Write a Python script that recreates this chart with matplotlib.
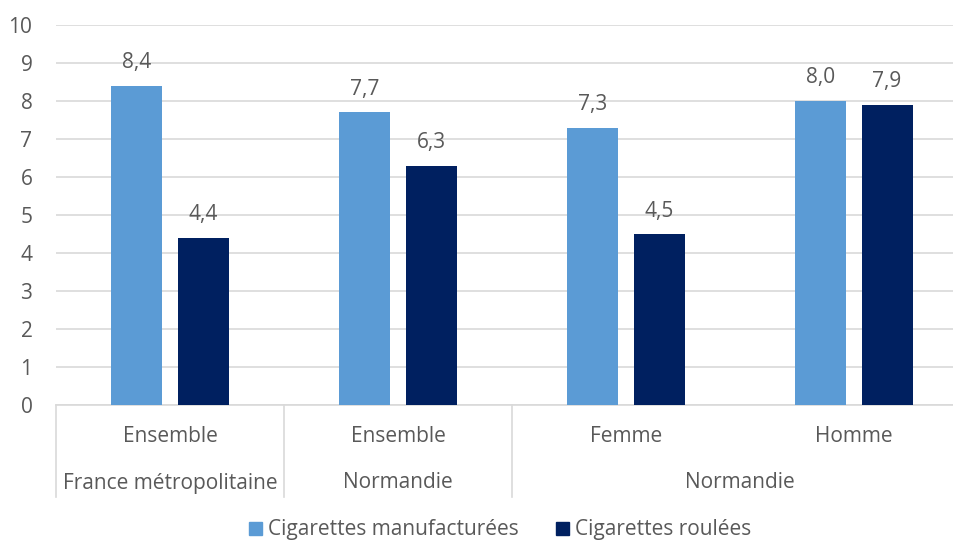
import matplotlib
matplotlib.use("Agg")
import matplotlib.pyplot as plt
import matplotlib.transforms as mtransforms
from matplotlib.patches import Patch

plt.rcParams['font.family'] = ['Open Sans', 'DejaVu Sans']

level1 = ["Ensemble", "Ensemble", "Femme", "Homme"]
level2 = ["France métropolitaine", "Normandie", "Normandie"]
level2_span = [(0, 0), (1, 1), (2, 3)]
series_names = ["Cigarettes manufacturées", "Cigarettes roulées"]
manufacturees = [8.4, 7.7, 7.3, 8.0]
roulees = [4.4, 6.3, 4.5, 7.9]
labels_m = ["8,4", "7,7", "7,3", "8,0"]
labels_r = ["4,4", "6,3", "4,5", "7,9"]
yticks = [0, 1, 2, 3, 4, 5, 6, 7, 8, 9, 10]

c1 = "#5B9BD5"
c2 = "#002060"
txt = "#595959"
grid = "#D9D9D9"
fs = 15

W, H = 954, 545
fig = plt.figure(figsize=(W/100, H/100), dpi=100)
ax = fig.add_axes([56/W, (H-405)/H, 912/W, 380/H])

x = list(range(len(level1)))
bw = 0.224
off = 0.145
xm = [i - off for i in x]
xr = [i + off for i in x]
ax.bar(xm, manufacturees, width=bw, color=c1, zorder=3)
ax.bar(xr, roulees, width=bw, color=c2, zorder=3)

for xi, v, l in zip(xm, manufacturees, labels_m):
    ax.annotate(l, (xi, v), xytext=(0, 9), textcoords='offset points',
                ha='center', va='bottom', fontsize=fs, color=txt)
for xi, v, l in zip(xr, roulees, labels_r):
    ax.annotate(l, (xi, v), xytext=(0, 9), textcoords='offset points',
                ha='center', va='bottom', fontsize=fs, color=txt)

ax.set_xlim(-0.5, len(level1) - 0.5)
ax.set_ylim(0, 10)
ax.set_yticks(yticks)
ax.set_yticklabels([str(t) for t in yticks], fontsize=fs, color=txt)
ax.tick_params(axis='y', length=0, pad=17)
ax.set_xticks([])
ax.grid(axis='y', color=grid, linewidth=1.2, zorder=0)
for s in ['top', 'right', 'left']:
    ax.spines[s].set_visible(False)
ax.spines['bottom'].set_color(grid)
ax.spines['bottom'].set_linewidth(1.2)

trans = mtransforms.blended_transform_factory(ax.transData, ax.transAxes)
ybot = -92/380
for b in [-0.5, 0.5, 1.5]:
    ax.plot([b, b], [0, ybot], transform=trans, color=grid, lw=1.2, clip_on=False)

y1 = -31/380
y2 = -78/380
for xi, l in zip(x, level1):
    ax.text(xi, y1, l, transform=trans, ha='center', va='center', fontsize=fs, color=txt)
for (a, b), l in zip(level2_span, level2):
    ax.text((a + b) / 2, y2, l, transform=trans, ha='center', va='center', fontsize=fs, color=txt)

handles = [Patch(color=c1, label=series_names[0]), Patch(color=c2, label=series_names[1])]
leg = fig.legend(handles=handles, loc='center', bbox_to_anchor=(500/W, (H-530)/H),
                 ncol=2, frameon=False, fontsize=fs, handlelength=0.6, handleheight=0.6,
                 handletextpad=0.3, columnspacing=1.8)
for t in leg.get_texts():
    t.set_color(txt)

fig.savefig("out.png", dpi=100)
